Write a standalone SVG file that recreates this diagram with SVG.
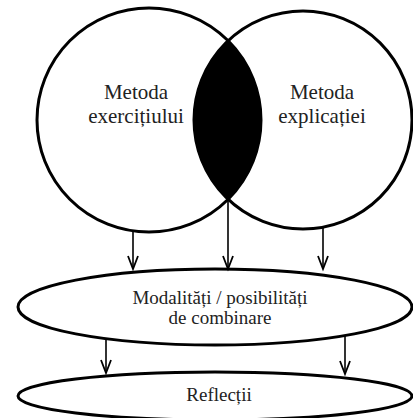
<svg xmlns="http://www.w3.org/2000/svg" width="413" height="418" viewBox="0 0 413 418">
<defs>
<style>
.shape{fill:none;stroke:#000;stroke-width:3}
.lens{fill:#000;stroke:#000;stroke-width:1}
.conn{stroke:#000;stroke-width:1.6;fill:none}
.t{font-family:"Liberation Serif","Times New Roman","DejaVu Serif","Noto Serif",serif;fill:#222;text-anchor:middle}
.big{font-size:21px}
.small{font-size:19px}
</style>
<marker id="arr" markerUnits="userSpaceOnUse" markerWidth="18" markerHeight="16" viewBox="-16 -8 18 16" refX="0" refY="0" orient="auto" overflow="visible">
<path d="M-13,-5 L0,0 L-13,5" fill="none" stroke="#000" stroke-width="1.8"/>
</marker>
</defs>
<rect width="413" height="418" fill="#fff"/>
<g id="lens-intersection">
<path class="lens" d="M228.2,40.8 A109,109 0 0,0 228.2,199.2 A112,112 0 0,0 228.2,40.8 Z"/>
</g>
<g id="node-exercitiului">
<circle class="shape" cx="149" cy="120" r="112"/>
<text class="t big" x="136" y="99" font-family="Liberation Serif, serif">Metoda</text>
<text class="t big" x="136" y="123" font-family="Liberation Serif, serif">exercițiului</text>
</g>
<g id="node-explicatiei">
<circle class="shape" cx="303" cy="120" r="109"/>
<text class="t big" x="322" y="99" font-family="Liberation Serif, serif">Metoda</text>
<text class="t big" x="322" y="123" font-family="Liberation Serif, serif">explicației</text>
</g>
<g id="node-modalitati">
<ellipse class="shape" cx="215" cy="307" rx="197" ry="38"/>
<text class="t small" x="220" y="304" font-family="Liberation Serif, serif">Modalități / posibilități</text>
<text class="t small" x="220" y="324" font-family="Liberation Serif, serif">de combinare</text>
</g>
<g id="node-reflectii">
<ellipse class="shape" cx="215" cy="396" rx="197" ry="24"/>
<text class="t small" x="219" y="401" font-family="Liberation Serif, serif">Reflecții</text>
</g>
<g id="connectors">
<line class="conn" x1="133" y1="231" x2="133" y2="269" marker-end="url(#arr)"/>
<line class="conn" x1="228" y1="199" x2="228" y2="269" marker-end="url(#arr)"/>
<line class="conn" x1="323" y1="228" x2="323" y2="269" marker-end="url(#arr)"/>
<line class="conn" x1="106" y1="339" x2="106" y2="373" marker-end="url(#arr)"/>
<line class="conn" x1="345" y1="336" x2="345" y2="374" marker-end="url(#arr)"/>
</g>
</svg>
